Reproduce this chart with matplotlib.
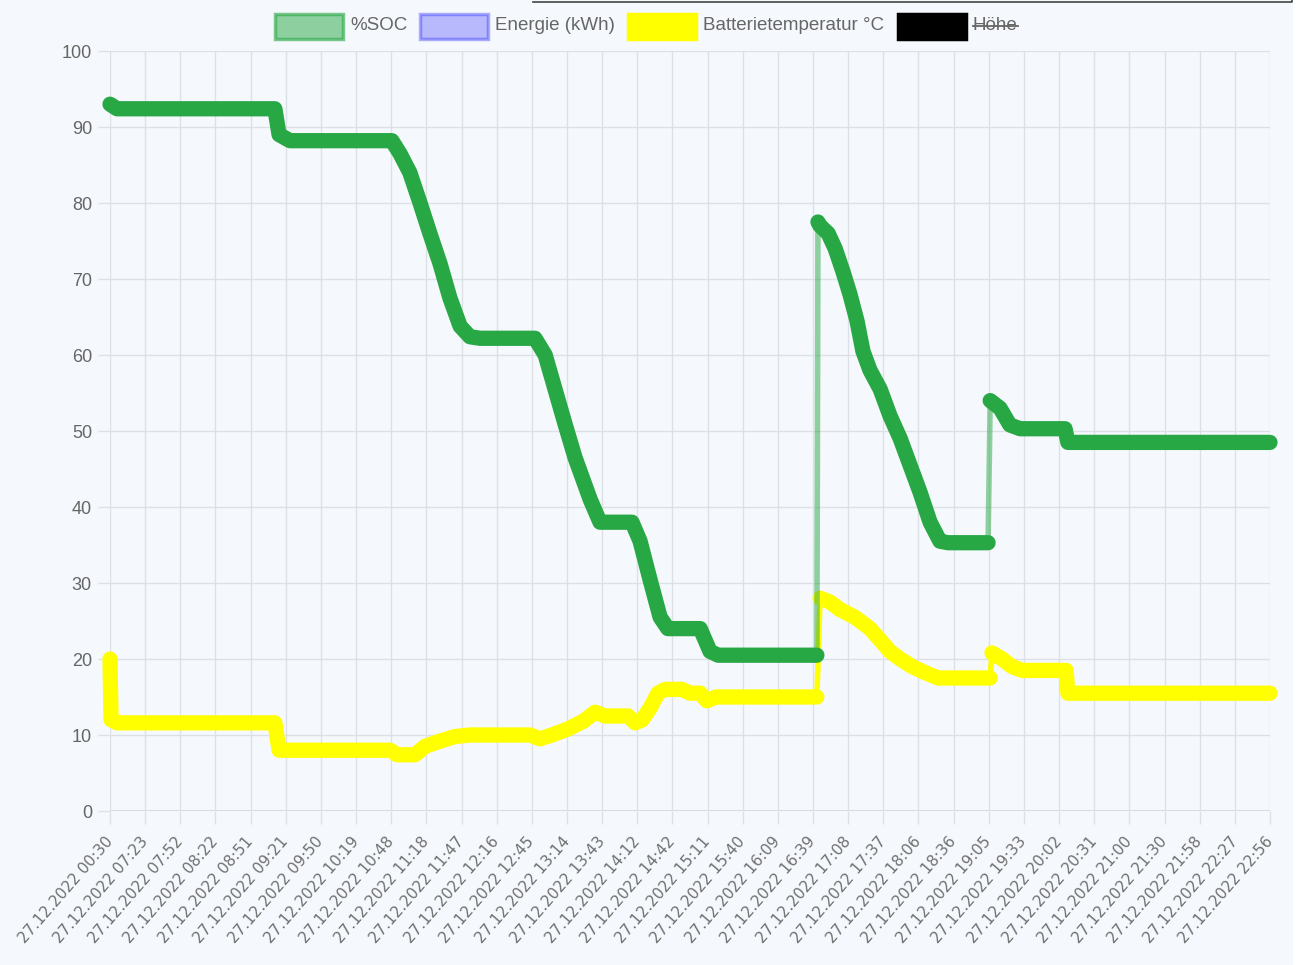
import numpy as np
import matplotlib.pyplot as plt
import matplotlib.transforms as mtransforms
from matplotlib.patches import Rectangle
from matplotlib.lines import Line2D

plt.rcParams['font.family'] = ['Liberation Sans', 'DejaVu Sans']

# Achsenbeschriftungen (Kategorieachse)
zeiten = ['00:30', '07:23', '07:52', '08:22', '08:51', '09:21', '09:50', '10:19',
          '10:48', '11:18', '11:47', '12:16', '12:45', '13:14', '13:43', '14:12',
          '14:42', '15:11', '15:40', '16:09', '16:39', '17:08', '17:37', '18:06',
          '18:36', '19:05', '19:33', '20:02', '20:31', '21:00', '21:30', '21:58',
          '22:27', '22:56']
labels = ['27.12.2022 ' + z for z in zeiten]

# %SOC  (x in Einheiten der Beschriftungen, NaN = Sprung)
soc_x = [0.0, 0.2, 4.69, 4.81, 5.12, 8.02, 8.25, 8.53, 8.82, 9.10, 9.39, 9.67, 9.96,
         10.24, 10.53, 12.09, 12.38, 12.66, 12.94, 13.23, 13.66, 13.94, 14.85, 15.08,
         15.36, 15.65, 15.87, 16.79, 17.07, 17.30, 20.11, np.nan,
         20.14, 20.2, 20.43, 20.63, 20.85, 21.05, 21.25, 21.42, 21.62, 21.91, 22.19,
         22.48, 22.76, 23.04, 23.33, 23.61, 23.84, 24.98, np.nan,
         25.04, 25.32, 25.6, 25.89, 27.17, 27.25, 33.0]
soc_y = [93.0, 92.4, 92.4, 89.0, 88.2, 88.2, 86.5, 84.0, 80.0, 76.0, 72.0, 67.5, 63.8,
         62.4, 62.2, 62.2, 60.0, 55.5, 51.0, 46.5, 41.0, 38.0, 38.0, 35.5,
         30.5, 25.5, 24.0, 24.0, 21.0, 20.5, 20.5, np.nan,
         77.5, 77.0, 76.0, 74.0, 71.0, 68.0, 64.5, 60.5, 58.0, 55.5, 52.0,
         49.0, 45.5, 42.0, 38.0, 35.5, 35.3, 35.3, np.nan,
         54.0, 53.0, 50.8, 50.3, 50.3, 48.5, 48.5]

# Batterietemperatur
temp_x = [0.0, 0.03, 0.2, 4.69, 4.81, 7.97, 8.17, 8.68, 8.96, 9.39, 9.82, 10.24, 11.95,
          12.23, 12.57, 13.03, 13.46, 13.8, 14.08, 14.74, 14.94, 15.14, 15.36, 15.59,
          15.79, 16.27, 16.5, 16.79, 16.98, 17.24, 20.11, np.nan,
          20.2, 20.48, 20.77, 21.19, 21.62, 21.91, 22.19, 22.48, 22.82, 23.19, 23.56,
          25.04, np.nan,
          25.09, 25.38, 25.66, 25.95, 27.2, 27.25, 33.0]
temp_y = [20.0, 12.0, 11.6, 11.6, 8.0, 8.0, 7.4, 7.4, 8.5, 9.2, 9.8, 10.0, 10.0,
          9.5, 10.0, 10.8, 11.8, 13.0, 12.5, 12.5, 11.6, 12.0, 13.5, 15.5,
          16.0, 16.0, 15.5, 15.5, 14.5, 15.0, 15.0, np.nan,
          28.0, 27.5, 26.5, 25.5, 24.0, 22.5, 21.0, 20.0, 19.0, 18.2, 17.5,
          17.5, np.nan,
          20.8, 20.0, 19.0, 18.5, 18.5, 15.5, 15.5]

gruen = (40/255, 167/255, 69/255)
gelb = '#ffff00'
hintergrund = '#f5f8fc'
grau = '#666666'

fig = plt.figure(figsize=(12.98, 9.65), dpi=100, facecolor=hintergrund)
ax = fig.add_axes([110/1298, 154/965, 1160/1298, 760/965])
ax.set_facecolor(hintergrund)

def zeichne(x, y, farbe, alpha_duenn):
    x = np.array(x)
    y = np.array(y)
    ok = ~np.isnan(x)
    # duenne Verbindung (auch ueber Spruenge)
    ax.plot(x[ok], y[ok], color=farbe, alpha=alpha_duenn, lw=4,
            solid_capstyle='round', solid_joinstyle='round', clip_on=False)
    # dicke Linie (Punkte dicht an dicht)
    ax.plot(x, y, color=farbe, lw=11, solid_capstyle='round',
            solid_joinstyle='round', clip_on=False)

zeichne(temp_x, temp_y, gelb, 1.0)
zeichne(soc_x, soc_y, gruen, 0.5)

ax.set_xlim(0, len(labels) - 1)
ax.set_ylim(0, 100)
ax.set_xticks(range(len(labels)))
ax.set_xticklabels(labels, rotation=49, ha='right', va='center',
                   rotation_mode='anchor', fontsize=11, color='#707070',
                   family='DejaVu Sans')
verschiebung = mtransforms.ScaledTranslation(5/100, 0, fig.dpi_scale_trans)
for t in ax.get_xticklabels():
    t.set_transform(t.get_transform() + verschiebung)
ax.set_yticks(range(0, 101, 10))
ax.set_yticklabels([str(v) for v in range(0, 101, 10)], fontsize=13, color=grau)
ax.grid(True, color='#dde0e4', lw=1)
ax.set_axisbelow(True)
ax.tick_params(axis='both', length=9, color='#dde0e4', width=1)
ax.tick_params(axis='x', pad=11)
ax.tick_params(axis='y', pad=4)
for s in ax.spines.values():
    s.set_visible(False)
ax.axhline(0, color='#d0d3d7', lw=1.2, zorder=0.5)

# Legende oben (eigene Kaestchen)
def px2fig(x, y):
    return x / 1298, 1 - y / 965

eintraege = [
    (275, '%SOC', (40/255, 167/255, 69/255, 0.5), (40/255, 167/255, 69/255, 0.6)),
    (420, 'Energie (kWh)', (0, 0, 1, 0.25), (0, 0, 1, 0.3)),
    (628, 'Batterietemperatur °C', gelb, gelb),
    (898, 'Höhe', 'black', 'black'),
]
texte = []
for x0, name, fuell, rand in eintraege:
    fx, fy = px2fig(x0, 39)
    fig.add_artist(Rectangle((fx, fy), 68/1298, 25/965, transform=fig.transFigure,
                             facecolor=fuell, edgecolor=rand, lw=2.5))
    tx, ty = px2fig(x0 + 75, 26)
    texte.append(fig.text(tx, ty, name, fontsize=13.5, color=grau, va='center'))

# Durchgestrichen: Höhe
fig.canvas.draw()
bb = texte[-1].get_window_extent()
ym = (bb.y0 + bb.y1) / 2
fig.add_artist(Line2D([bb.x0, bb.x1], [ym, ym], transform=None, color=grau, lw=1.3))

# Rahmen oben rechts aus dem Screenshot
fig.add_artist(Line2D([533/1298, 1292/1298, 1292/1298], [1 - 2/965, 1 - 2/965, 1],
                      transform=fig.transFigure, color='#444444', lw=1.2))
fig.add_artist(Rectangle((1293/1298, 0), 5/1298, 1, transform=fig.transFigure,
                         facecolor='white', edgecolor='none'))

fig.savefig('out.png', dpi=100, facecolor=hintergrund)
